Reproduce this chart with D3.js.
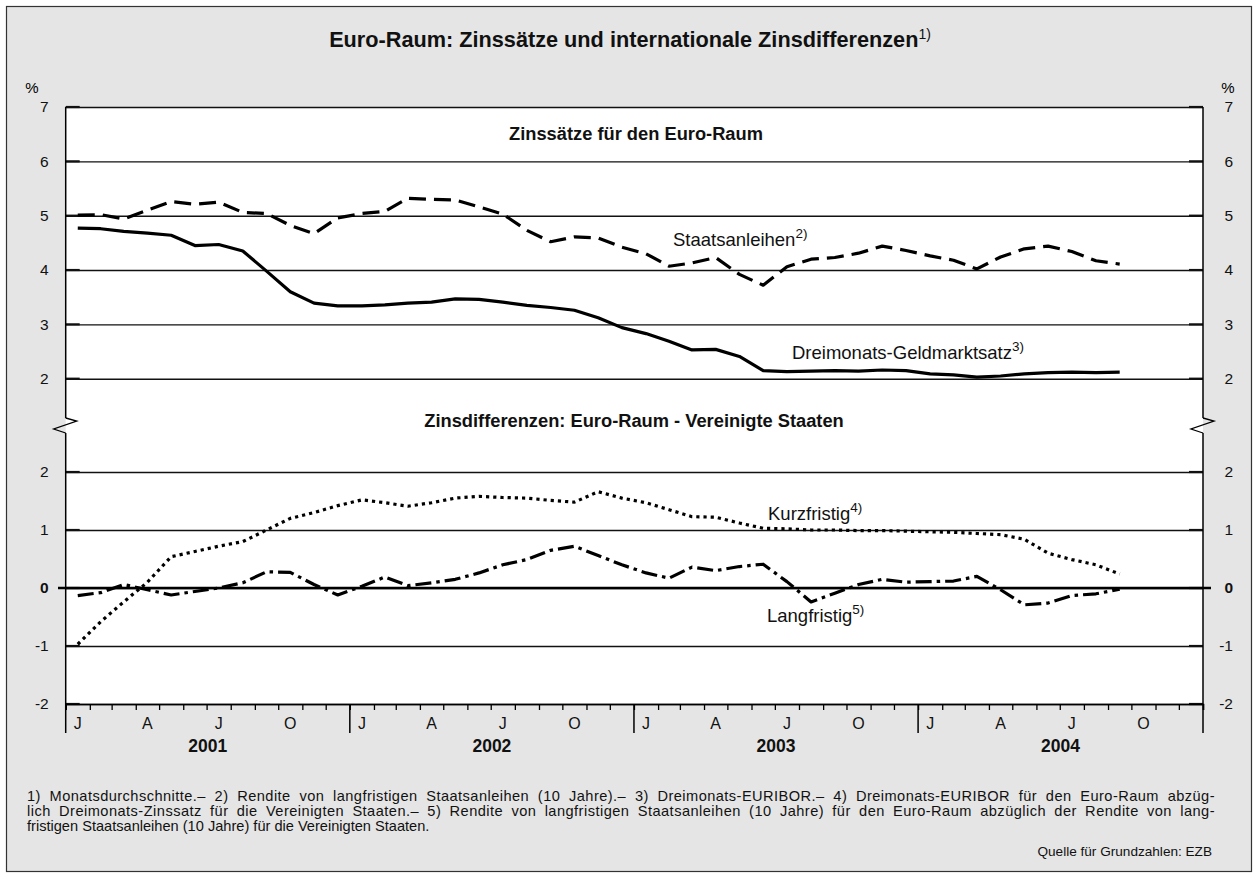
<!DOCTYPE html>
<html>
<head>
<meta charset="utf-8">
<script src="https://cdn.jsdelivr.net/npm/d3@7/dist/d3.min.js"></script>
<style>
  html, body { margin: 0; padding: 0; background: #ffffff; }
  svg { display: block; font-family: "Liberation Sans", Arial, Helvetica, sans-serif; }
</style>
</head>
<body>
<svg id="chart" width="1258" height="877"></svg>
<script>
// ---------------- DATA (monthly, Jan 2001 – Sep 2004) ----------------
const startYear = 2001;
const monthCount = 45;
const geldmarkt = [4.77,4.76,4.71,4.68,4.64,4.45,4.47,4.35,3.98,3.60,3.39,3.34,
                   3.34,3.36,3.39,3.41,3.47,3.46,3.41,3.35,3.31,3.26,3.12,2.94,
                   2.83,2.69,2.53,2.54,2.41,2.15,2.13,2.14,2.15,2.14,2.16,2.15,
                   2.09,2.07,2.03,2.05,2.09,2.11,2.12,2.11,2.12];
const staatsanleihen = [5.01,5.02,4.94,5.10,5.26,5.21,5.25,5.06,5.04,4.82,4.67,4.96,
                        5.04,5.08,5.32,5.30,5.29,5.16,5.03,4.73,4.52,4.61,4.59,4.42,
                        4.30,4.07,4.13,4.23,3.92,3.72,4.06,4.20,4.23,4.31,4.44,4.36,
                        4.26,4.18,4.02,4.24,4.39,4.44,4.34,4.17,4.11];
const kurzfristig = [-0.97,-0.58,-0.24,0.10,0.54,0.63,0.72,0.80,1.00,1.20,1.30,1.42,
                     1.52,1.47,1.41,1.47,1.55,1.58,1.56,1.55,1.51,1.48,1.66,1.55,
                     1.47,1.35,1.23,1.22,1.12,1.03,1.02,1.00,1.00,0.99,0.99,0.98,
                     0.97,0.96,0.94,0.92,0.84,0.60,0.49,0.40,0.24];
const langfristig = [-0.13,-0.08,0.06,-0.03,-0.12,-0.06,0.00,0.09,0.28,0.27,0.06,-0.12,
                     0.03,0.19,0.04,0.09,0.15,0.26,0.40,0.49,0.65,0.72,0.56,0.40,
                     0.26,0.17,0.36,0.30,0.37,0.41,0.11,-0.24,-0.09,0.06,0.15,0.10,
                     0.11,0.12,0.20,-0.03,-0.29,-0.26,-0.13,-0.10,-0.02];
const upperTicks = [2,3,4,5,6,7];
const lowerTicks = [-2,-1,0,1,2];
const monthLetters = ["J","F","M","A","M","J","J","A","S","O","N","D"];
const labeledMonths = [0,3,6,9];
const years = [2001,2002,2003,2004];
const titleText = "Euro-Raum: Zinssätze und internationale Zinsdifferenzen";
const subUpper = "Zinssätze für den Euro-Raum";
const subLower = "Zinsdifferenzen: Euro-Raum - Vereinigte Staaten";
const footnotes = [
  "1) Monatsdurchschnitte.– 2) Rendite von langfristigen Staatsanleihen (10 Jahre).– 3) Dreimonats-EURIBOR.– 4) Dreimonats-EURIBOR für den Euro-Raum abzüg-",
  "lich Dreimonats-Zinssatz für die Vereinigten Staaten.– 5) Rendite von langfristigen Staatsanleihen (10 Jahre) für den Euro-Raum abzüglich der Rendite von lang-",
  "fristigen Staatsanleihen (10 Jahre) für die Vereinigten Staaten."
];
const sourceText = "Quelle für Grundzahlen: EZB";

// ---------------- LAYOUT ----------------
const W = 1258, H = 877;
const X0 = 65.7, X1 = 1203;
const svg = d3.select("#chart");
const fmt = d => String(d);   // hyphen-minus like the original

const x = d3.scaleTime()
  .domain([new Date(startYear,0,1), new Date(startYear+4,0,1)])
  .range([X0, X1]);
const yU = d3.scaleLinear().domain([2,7]).range([378.7,107]);
const yL = d3.scaleLinear().domain([-2,2]).range([704,472]);

const midMonth = i => {
  const a = new Date(startYear, i, 1), b = new Date(startYear, i+1, 1);
  return new Date((a.getTime()+b.getTime())/2);
};
const dates = d3.range(monthCount).map(midMonth);

// background frame
svg.append("rect").attr("x",0).attr("y",0).attr("width",W).attr("height",H).attr("fill","#ffffff");
svg.append("rect").attr("x",6.5).attr("y",6.5).attr("width",W-13).attr("height",H-12)
  .attr("fill","#e5e5e5").attr("stroke","#333").attr("stroke-width",1.2);

// plot white area
svg.append("rect").attr("x",X0).attr("y",yU(7)).attr("width",X1-X0).attr("height",yL(-2)-yU(7))
  .attr("fill","#ffffff");

// title
const t = svg.append("text").attr("x",630).attr("y",47).attr("text-anchor","middle")
  .attr("font-size",21.7).attr("font-weight","bold").attr("fill","#111");
t.append("tspan").text(titleText);
t.append("tspan").attr("font-size",14).attr("font-weight","normal").attr("dy",-8).text("1)");

// % labels
svg.append("text").attr("x",32).attr("y",93).attr("text-anchor","middle").attr("font-size",15).text("%");
svg.append("text").attr("x",1228).attr("y",93).attr("text-anchor","middle").attr("font-size",15).text("%");

// gridlines + axes labels
function drawGrid(scale, ticks) {
  const gL = svg.append("g").attr("transform",`translate(${X0},0)`)
    .call(d3.axisLeft(scale).tickValues(ticks).tickSize(-(X1-X0)).tickPadding(17).tickFormat(fmt));
  gL.select(".domain").remove();
  gL.selectAll(".tick line").attr("stroke","#111").attr("stroke-width",1.4);
  gL.selectAll(".tick text").attr("font-size",15.5).attr("fill","#111")
    .attr("font-family","Liberation Sans, Arial, sans-serif")
    .attr("font-weight", d => d===0 && scale===yL ? "bold" : "normal");
  const gR = svg.append("g").attr("transform",`translate(${X1},0)`)
    .call(d3.axisRight(scale).tickValues(ticks).tickSize(0).tickPadding(30).tickFormat(fmt));
  gR.select(".domain").remove();
  gR.selectAll(".tick text").attr("text-anchor","end").attr("font-size",15.5).attr("fill","#111")
    .attr("font-family","Liberation Sans, Arial, sans-serif")
    .attr("font-weight", d => d===0 && scale===yL ? "bold" : "normal");
  ticks.forEach(v => {
    svg.append("line").attr("x1",X0).attr("x2",X0+14).attr("y1",scale(v)).attr("y2",scale(v))
      .attr("stroke","#111").attr("stroke-width",2.2);
    svg.append("line").attr("x1",X1-14).attr("x2",X1).attr("y1",scale(v)).attr("y2",scale(v))
      .attr("stroke","#111").attr("stroke-width",2.2);
  });
}
drawGrid(yU, upperTicks);
drawGrid(yL, lowerTicks);

// zero line, heavier and extending beyond axes
svg.append("line").attr("x1",58).attr("x2",1211).attr("y1",yL(0)).attr("y2",yL(0))
  .attr("stroke","#000").attr("stroke-width",2.6);

// vertical axes with break
const brkTop = 418, brkBot = 433;
[X0, X1].forEach(ax => {
  svg.append("line").attr("x1",ax).attr("x2",ax).attr("y1",yU(7)).attr("y2",brkTop)
    .attr("stroke","#000").attr("stroke-width",1.5);
  svg.append("line").attr("x1",ax).attr("x2",ax).attr("y1",brkBot).attr("y2",733)
    .attr("stroke","#000").attr("stroke-width",1.5);
  svg.append("path")
    .attr("d", d3.line()([[ax,brkTop],[ax+11,421],[ax-12,429],[ax,brkBot]]))
    .attr("fill","none").attr("stroke","#000").attr("stroke-width",1.3);
});

// x axis: month ticks
const gX = svg.append("g").attr("transform",`translate(0,${yL(-2)})`)
  .call(d3.axisBottom(x).ticks(d3.timeMonth.every(1)).tickSize(6).tickFormat(""));
gX.select(".domain").attr("stroke","#000").attr("stroke-width",1.5);
gX.selectAll(".tick line").attr("stroke","#000").attr("stroke-width",1.3);

// year separators
years.slice(1).forEach(yr => {
  const xx = x(new Date(yr,0,1));
  svg.append("line").attr("x1",xx).attr("x2",xx).attr("y1",yL(-2)).attr("y2",733)
    .attr("stroke","#000").attr("stroke-width",1.5);
});

// month labels and years
years.forEach(yr => {
  labeledMonths.forEach(m => {
    const d = new Date((new Date(yr,m,1).getTime()+new Date(yr,m+1,1).getTime())/2);
    svg.append("text").attr("x",x(d)).attr("y",728.5).attr("text-anchor","middle")
      .attr("font-size",16).attr("fill","#111").text(monthLetters[m]);
  });
  const c = new Date((new Date(yr,0,1).getTime()+new Date(yr+1,0,1).getTime())/2);
  svg.append("text").attr("x",x(c)).attr("y",751.5).attr("text-anchor","middle")
    .attr("font-size",17.5).attr("font-weight","bold").attr("fill","#111").text(yr);
});

// subtitles
svg.append("text").attr("x",636).attr("y",140).attr("text-anchor","middle")
  .attr("font-size",18.3).attr("font-weight","bold").attr("fill","#111").text(subUpper);
svg.append("text").attr("x",634).attr("y",427).attr("text-anchor","middle")
  .attr("font-size",18.3).attr("font-weight","bold").attr("fill","#111").text(subLower);

// series
function drawSeries(vals, scale, dash) {
  const line = d3.line().x((d,i) => x(dates[i])).y(d => scale(d));
  svg.append("path").datum(vals).attr("d", line)
    .attr("fill","none").attr("stroke","#000").attr("stroke-width",3.2)
    .attr("stroke-linejoin","round").attr("stroke-linecap","butt")
    .attr("stroke-dasharray", dash);
}
drawSeries(staatsanleihen, yU, "17,8");
drawSeries(geldmarkt, yU, null);
drawSeries(kurzfristig, yL, "3.2,4");
drawSeries(langfristig, yL, "16,5,3.5,5");

// series labels
function seriesLabel(txt, sup, xx, yy) {
  const tt = svg.append("text").attr("x",xx).attr("y",yy).attr("font-size",18.5).attr("fill","#111");
  tt.append("tspan").text(txt);
  tt.append("tspan").attr("font-size",13.5).attr("dy",-8).text(sup);
}
seriesLabel("Staatsanleihen","2)",673,246);
seriesLabel("Dreimonats-Geldmarktsatz","3)",792,359);
seriesLabel("Kurzfristig","4)",768,520);
seriesLabel("Langfristig","5)",767,622);

// footnotes (justified: extra width shared between letters and word spaces)
const fnSize = 14.6, fnLeft = 27, fnRight = 1215;
footnotes.forEach((f,i) => {
  const tx = svg.append("text").attr("x",fnLeft).attr("y",801 + i*15)
    .attr("font-size",fnSize).attr("fill","#111").text(f);
  if (i < 2) {
    const nat = tx.node().getComputedTextLength();
    const spaces = (f.match(/ /g) || []).length;
    const extra = Math.max(0, fnRight - fnLeft - nat);
    const ls = (extra * 0.5) / f.length;
    const ws = (extra * 0.5) / spaces;
    tx.attr("letter-spacing", ls).attr("word-spacing", ws);
  }
});
svg.append("text").attr("x",1212).attr("y",856).attr("text-anchor","end")
  .attr("font-size",13.6).attr("fill","#111").text(sourceText);
</script>
</body>
</html>
